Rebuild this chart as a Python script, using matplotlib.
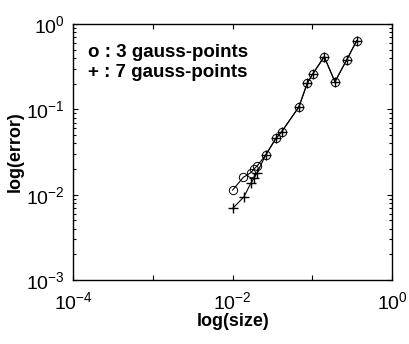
import matplotlib
matplotlib.use('Agg')

import numpy as np
import matplotlib.pyplot as plt
from matplotlib.ticker import LogLocator, FuncFormatter, NullFormatter

# element size vs. error for two quadrature orders (log10 values)
log_size_3 = [-2.000, -1.867, -1.774, -1.733, -1.691, -1.586, -1.457, -1.385,
              -1.168, -1.064, -0.996, -0.851, -0.716, -0.570, -0.444]
log_err_3 = [-1.946, -1.797, -1.743, -1.700, -1.661, -1.536, -1.340, -1.263,
             -0.970, -0.695, -0.586, -0.383, -0.676, -0.422, -0.196]

log_size_7 = [-2.000, -1.858, -1.774, -1.733, -1.691, -1.586, -1.457, -1.385,
              -1.168, -1.064, -0.996, -0.851, -0.716, -0.570, -0.444]
log_err_7 = [-2.161, -2.025, -1.868, -1.810, -1.740, -1.536, -1.340, -1.263,
             -0.970, -0.695, -0.586, -0.383, -0.676, -0.422, -0.196]

legend_lines = ['o : 3 gauss-points', '+ : 7 gauss-points']

plt.rcParams['font.family'] = ['Liberation Sans', 'DejaVu Sans']
plt.rcParams['mathtext.fontset'] = 'custom'
plt.rcParams['mathtext.rm'] = 'Liberation Sans'
plt.rcParams['mathtext.it'] = 'Liberation Sans'

fig = plt.figure(figsize=(4.09, 3.44), dpi=100)
ax = fig.add_axes([0.1792, 0.186, 0.7792, 0.744])

size3 = 10.0 ** np.array(log_size_3)
err3 = 10.0 ** np.array(log_err_3)
size7 = 10.0 ** np.array(log_size_7)
err7 = 10.0 ** np.array(log_err_7)

ax.loglog(size3, err3, '-', color='black', lw=0.8, marker='o', ms=6,
          mfc='none', mec='black', mew=0.7)
ax.loglog(size7, err7, '-', color='black', lw=0.8, marker='+', ms=6.5,
          mec='black', mew=1.0)

ax.set_xlim(1e-4, 1)
ax.set_ylim(1e-3, 1)

# x: tick at every decade, labels only on the even ones
ax.xaxis.set_major_locator(LogLocator(base=10, numticks=10))
ax.xaxis.set_minor_locator(LogLocator(base=10, subs=[], numticks=10))


def x_fmt(v, pos):
    e = int(round(np.log10(v)))
    if e % 2 == 0:
        return r'$10^{%d}$' % e
    return ''


ax.xaxis.set_major_formatter(FuncFormatter(x_fmt))
ax.yaxis.set_major_locator(LogLocator(base=10, numticks=10))
ax.yaxis.set_minor_locator(LogLocator(base=10, subs=np.arange(2, 10), numticks=10))
ax.yaxis.set_minor_formatter(NullFormatter())
ax.yaxis.set_major_formatter(FuncFormatter(lambda v, p: r'$10^{%d}$' % int(round(np.log10(v)))))

ax.tick_params(which='both', direction='in', top=True, right=True, labelsize=14, width=0.8)
ax.tick_params(which='major', length=3.5, pad=6)
ax.tick_params(axis='x', which='major', pad=8)
ax.tick_params(which='minor', length=2)
for s in ax.spines.values():
    s.set_linewidth(1.0)

ax.set_xlabel('log(size)', fontsize=13, fontweight='bold', labelpad=0)
ax.set_ylabel('log(error)', fontsize=13, fontweight='bold', labelpad=2)

ax.text(0.045, 0.89, legend_lines[0], transform=ax.transAxes, fontsize=13.5,
        fontweight='bold', va='center', ha='left')
ax.text(0.045, 0.81, legend_lines[1], transform=ax.transAxes, fontsize=13.5,
        fontweight='bold', va='center', ha='left')

fig.savefig('out.png', dpi=100)
